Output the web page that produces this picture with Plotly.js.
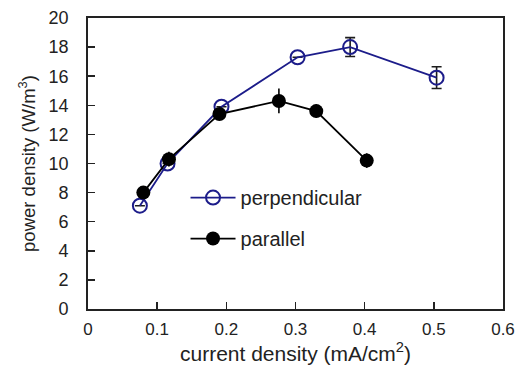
<!DOCTYPE html>
<html><head><meta charset="utf-8">
<script src="https://cdn.plot.ly/plotly-3.0.1.min.js"></script>
<style>html,body{margin:0;padding:0;background:#fff}</style>
</head><body><div id="chart" style="width:515px;height:369px"></div>
<script>
var perpX = [0.075, 0.115, 0.193, 0.303, 0.379, 0.504];
var perpY = [7.1, 10.0, 13.9, 17.3, 18.0, 15.9];
var perpErr = [null, null, null, null, 0.65, 0.75];
var paraX = [0.080, 0.117, 0.190, 0.276, 0.330, 0.403];
var paraY = [8.0, 10.3, 13.4, 14.3, 13.6, 10.2];
var paraErr = [0.2, 0.5, 0.2, 0.85, 0.45, 0.5];

var font = 'Liberation Sans, Arial, sans-serif';
var traces = [
  {x: perpX, y: perpY, name: 'perpendicular', type: 'scatter', mode: 'lines+markers',
   legendgroup: 'a',
   line: {color: '#1c1c8a', width: 1.8},
   marker: {symbol: 'circle-open', size: 14, color: '#1c1c8a', line: {width: 2, color: '#1c1c8a'}},
   error_y: {type: 'data', array: perpErr, visible: true, color: '#1c1c1c', thickness: 1.6, width: 5}},
  {x: paraX, y: paraY, name: 'parallel', type: 'scatter', mode: 'lines+markers',
   legendgroup: 'b',
   line: {color: '#000', width: 1.8},
   marker: {symbol: 'circle', size: 14, color: '#000'},
   error_y: {type: 'data', array: paraErr, visible: true, color: '#000', thickness: 1.6, width: 0}}
];
var layout = {
  width: 515, height: 369,
  margin: {l: 87.5, r: 12.3, t: 17.5, b: 59.5},
  paper_bgcolor: '#fff', plot_bgcolor: '#fff',
  font: {family: font, size: 17, color: '#222'},
  showlegend: true,
  legend: {x: 0.235, y: 0.45, xanchor: 'left', yanchor: 'top', bgcolor: 'rgba(0,0,0,0)',
           itemwidth: 45,
           font: {size: 20, family: font, color: '#222'}, tracegroupgap: 12},
  xaxis: {range: [0, 0.6], tickvals: [0, 0.1, 0.2, 0.3, 0.4, 0.5, 0.6],
          ticktext: ['0', '0.1', '0.2', '0.3', '0.4', '0.5', '0.6'],
          ticks: 'inside', ticklen: 7, tickwidth: 1.5, tickcolor: '#222',
          showline: true, linecolor: '#222', linewidth: 1.8, mirror: true,
          showgrid: false, zeroline: false, ticklabelstandoff: 4,
          ticklabeloverflow: 'allow',
          tickfont: {size: 17, family: font, color: '#222'},
          title: {text: 'current density (mA/cm<sup>2</sup>)', font: {size: 21, family: font, color: '#222'}, standoff: 8}},
  yaxis: {range: [0, 20], dtick: 2, ticks: 'inside', ticklen: 7, tickwidth: 1.5, tickcolor: '#222',
          showline: true, linecolor: '#222', linewidth: 1.8, mirror: true,
          showgrid: false, zeroline: false, ticklabelstandoff: 14,
          tickfont: {size: 18, family: font, color: '#222'},
          title: {text: 'power density (W/m<sup>3</sup>)', font: {size: 18.5, family: font, color: '#222'}, standoff: 8}}
};
Plotly.newPlot('chart', traces, layout, {displayModeBar: false, staticPlot: true});
</script></body></html>
